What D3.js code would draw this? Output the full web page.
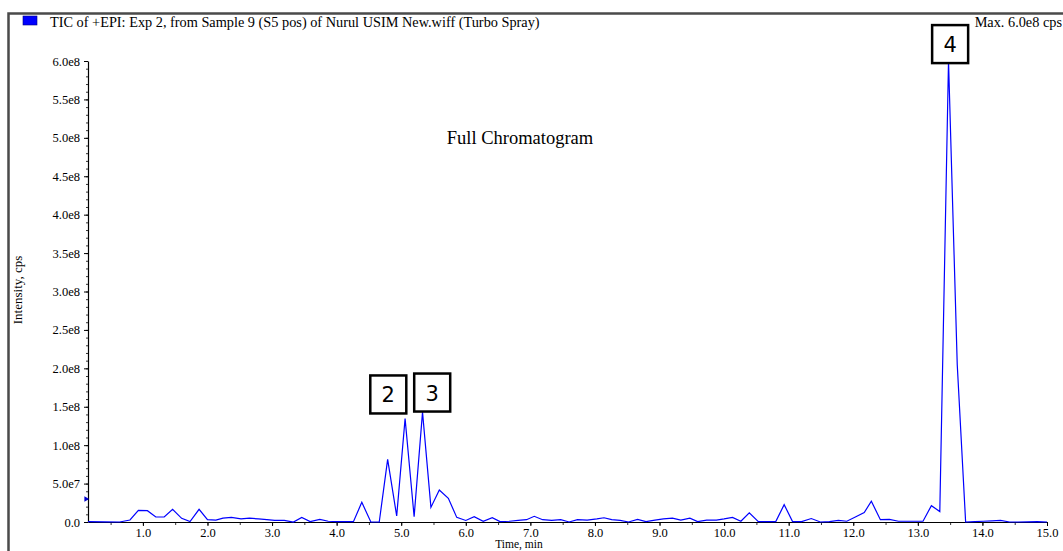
<!DOCTYPE html>
<html>
<head>
<meta charset="utf-8">
<script src="https://cdn.jsdelivr.net/npm/d3@7"></script>
<style>
  body { margin:0; background:#fff; }
  svg { display:block; }
  text { font-family:"Liberation Serif", "Times New Roman", serif; fill:#000; }
</style>
</head>
<body>
<div class="chart"></div>
<script>
// retention time (min) and TIC intensity (cps)
let times = [0.15,0.40,0.64,0.80,0.93,1.07,1.20,1.33,1.46,1.60,1.73,1.87,2.00,2.13,2.24,2.37,2.52,2.65,2.79,2.92,
	3.04,3.19,3.33,3.46,3.59,3.74,3.87,4.00,4.13,4.26,4.39,4.53,4.66,4.79,4.93,5.06,5.20,5.33,5.46,5.59,
	5.73,5.86,6.00,6.13,6.27,6.41,6.53,6.68,6.81,6.94,7.06,7.19,7.33,7.47,7.60,7.73,7.88,8.03,8.14,8.26,
	8.39,8.52,8.66,8.79,8.93,9.06,9.20,9.33,9.47,9.59,9.73,9.88,10.00,10.13,10.26,10.39,10.53,10.66,10.80,10.93,
	11.06,11.20,11.35,11.49,11.63,11.77,11.90,12.04,12.17,12.28,12.42,12.56,12.70,12.84,12.97,13.08,13.21,13.34,13.475,13.61,
	13.74,13.88,14.01,14.15,14.28,14.42,14.55,14.70,14.85,15.00];
let intensity = [0.05,0.02,0.0,0.26,1.5,1.47,0.65,0.65,1.65,0.48,0.05,1.65,0.3,0.25,0.5,0.6,0.4,0.5,0.4,0.3,
	0.2,0.2,0.0,0.6,0.05,0.35,0.1,0.05,0.05,0.05,2.56,0.0,0.0,8.16,0.78,13.45,0.7,14.3,1.9,4.16,
	3.08,0.6,0.2,0.7,0.1,0.55,0.05,0.1,0.2,0.3,0.74,0.3,0.2,0.3,0.0,0.3,0.25,0.4,0.55,0.3,
	0.2,0.0,0.35,0.05,0.25,0.4,0.5,0.25,0.5,0.05,0.25,0.25,0.4,0.6,0.1,1.2,0.05,0.05,0.05,2.26,
	0.05,0.05,0.45,0.0,0.05,0.2,0.1,0.68,1.23,2.7,0.3,0.35,0.1,0.1,0.1,0.1,2.13,1.36,60.0,20.5,
	0.0,0.05,0.1,0.15,0.2,0.0,0.0,0.02,0.05,0.0].map(v => v * 1e7);

let xTicks = [1,2,3,4,5,6,7,8,9,10,11,12,13,14,15];
let yTicks = [0,5e7,1e8,1.5e8,2e8,2.5e8,3e8,3.5e8,4e8,4.5e8,5e8,5.5e8,6e8];

// peak number boxes (centre time, centre intensity)
let peakLabels = ["2","3","4"];
let peakT = [4.80, 5.48, 13.50];
let peakV = [1.66e8, 1.685e8, 6.22e8];

let outWidth = 1063, outHeight = 551;

const svg = d3.select('.chart').append('svg')
	.attr("width", outWidth)
	.attr("height", outHeight);

let xScale = d3.scaleLinear().domain([0.15, 15]).range([88, 1047]);
let yScale = d3.scaleLinear().domain([0, 6e8]).range([522, 61]);

// frame
svg.append("path")
	.attr("d", "M8.5,551 V13.5 H1063")
	.attr("fill", "none")
	.attr("stroke", "#4a4a4a")
	.attr("stroke-width", 2.5);

// header
svg.append("rect")
	.attr("x", 23).attr("y", 16)
	.attr("width", 14).attr("height", 9)
	.attr("fill", "#0000ff")
	.attr("stroke", "#000080")
	.attr("stroke-width", 0.6);
svg.append("text")
	.attr("x", 50).attr("y", 27)
	.style("font-size", "14.3px")
	.text("TIC of +EPI: Exp 2, from Sample 9 (S5 pos) of Nurul USIM New.wiff (Turbo Spray)");
svg.append("text")
	.attr("x", 1062).attr("y", 27)
	.attr("text-anchor", "end")
	.style("font-size", "14.3px")
	.text("Max. 6.0e8 cps");

function fmtY(v){
	if (v === 0) return "0.0";
	let e = Math.floor(Math.log10(v));
	return (v / Math.pow(10, e)).toFixed(1) + "e" + e;
}

// minor ticks
svg.append("g")
	.attr("transform", "translate(88,0)")
	.call(d3.axisLeft(yScale).tickValues(d3.range(0, 6e8 + 1, 1e7)).tickSize(2).tickFormat(""))
	.call(g => g.select(".domain").remove())
	.selectAll("line").attr("stroke", "#333");
svg.append("g")
	.attr("transform", "translate(0,522)")
	.call(d3.axisBottom(xScale).tickValues(d3.range(0.5, 15.01, 0.5)).tickSize(3).tickFormat(""))
	.call(g => g.select(".domain").remove())
	.selectAll("line").attr("stroke", "#333");

// major axes
const yAxis = svg.append("g")
	.attr("transform", "translate(88,0)")
	.call(d3.axisLeft(yScale).tickValues(yTicks).tickSize(4).tickPadding(4).tickFormat(fmtY).tickSizeOuter(0));
yAxis.selectAll("text").style("font-size", "12.5px").style("font-family", "Liberation Serif");

const xAxis = svg.append("g")
	.attr("transform", "translate(0,522)")
	.call(d3.axisBottom(xScale).tickValues(xTicks).tickSize(4).tickPadding(2).tickFormat(d3.format(".1f")).tickSizeOuter(0));
xAxis.selectAll("text").style("font-size", "12.5px").style("font-family", "Liberation Serif");

svg.selectAll(".domain").attr("stroke", "#000").attr("stroke-width", 1.2);

// axis titles
svg.append("text")
	.attr("x", 519).attr("y", 548)
	.attr("text-anchor", "middle")
	.style("font-size", "11.5px")
	.text("Time, min");
svg.append("text")
	.attr("transform", "translate(22,290) rotate(-90)")
	.attr("text-anchor", "middle")
	.style("font-size", "13px")
	.text("Intensity, cps");

svg.append("text")
	.attr("x", 520).attr("y", 144)
	.attr("text-anchor", "middle")
	.style("font-size", "18.5px")
	.text("Full Chromatogram");

// trace
let line = d3.line()
	.x((d, i) => xScale(times[i]))
	.y(d => yScale(d));
svg.append("path")
	.datum(intensity)
	.attr("d", line)
	.attr("fill", "none")
	.attr("stroke", "#0000ff")
	.attr("stroke-width", 1.2)
	.attr("stroke-linejoin", "miter");

// start marker
svg.append("path")
	.attr("d", d3.symbol(d3.symbolTriangle2, 22)())
	.attr("transform", `translate(86,${yScale(3e7)}) rotate(90)`)
	.attr("fill", "#0000cc");

// peak boxes
const boxes = svg.selectAll(".peak")
	.data(peakLabels)
	.enter().append("g")
	.attr("class", "peak")
	.attr("transform", (d, i) => `translate(${xScale(peakT[i])},${yScale(peakV[i])})`);
boxes.append("rect")
	.attr("x", -18).attr("y", -19)
	.attr("width", 36).attr("height", 38)
	.attr("fill", "#fff")
	.attr("stroke", "#000")
	.attr("stroke-width", 2.5);
boxes.append("text")
	.attr("text-anchor", "middle")
	.attr("y", 8)
	.style("font-family", "'DejaVu Sans', sans-serif")
	.style("font-size", "21px")
	.text(d => d);
</script>
</body>
</html>
